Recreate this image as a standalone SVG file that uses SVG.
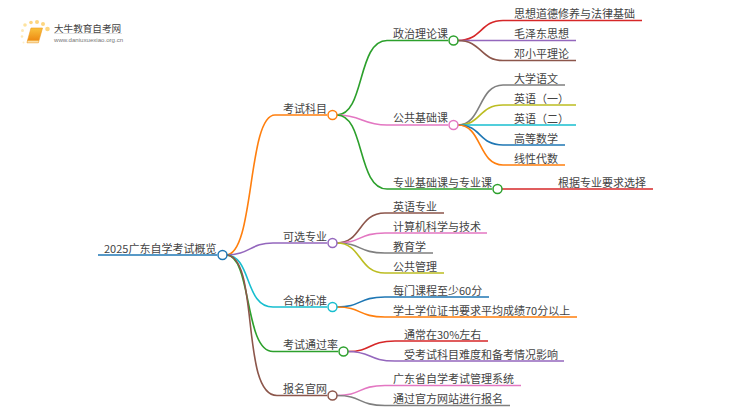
<svg xmlns="http://www.w3.org/2000/svg" width="750" height="410" viewBox="0 0 750 410">
<style>
text{font-family:"Noto Sans CJK SC","Liberation Sans",sans-serif;font-size:11px;fill:#444;transform:translateY(.7px)}
.c path{fill:none;stroke-width:1.6}
circle.n{fill:#fff;stroke-width:1.5}
.blue{stroke:#1f77b4}.org{stroke:#ff7f0e}.grn{stroke:#2ca02c}.red{stroke:#d62728}.pur{stroke:#9467bd}.brn{stroke:#8c564b}.pnk{stroke:#e377c2}.gry{stroke:#7f7f7f}.olv{stroke:#bcbd22}.cyn{stroke:#17becf}
</style>
<defs><linearGradient id="bk" x1="0" y1="0" x2="0" y2="1"><stop offset="0" stop-color="#f9c23c"/><stop offset="1" stop-color="#ee8a12"/></linearGradient></defs>
<rect width="750" height="410" fill="#fff"/>
<g id="logo">
<circle cx="25" cy="25" r="1.800" fill="#fde3a0"/><circle cx="31" cy="22.500" r="1.800" fill="#fdd680"/><circle cx="37" cy="22" r="2" fill="#fdd680"/><circle cx="43" cy="24" r="2" fill="#fdd680"/><circle cx="47.500" cy="29" r="2.300" fill="#fdd680"/><circle cx="22.500" cy="30.500" r="1.500" fill="#fde9b8"/><circle cx="22" cy="36.500" r="1.300" fill="#fde9b8"/><circle cx="23.500" cy="42.500" r="1" fill="#fdeecb"/>
<path d="M31 28h11.500l-3.500 12.500h-11.500z" fill="url(#bk)" stroke="#ee9a20" stroke-width=".6"/><path d="M27.500 40.500h11.500l-.6 2.300h-11.400z" fill="#fbe0a8" stroke="#ee9a20" stroke-width=".6"/>
<text x="54" y="31" style="font-size:9.600px">大牛教育自考网</text>
<path d="M54 33.500h68" stroke="#ccc" stroke-width=".6"/>
<text x="54" y="41" style="font-size:6.100px;fill:#777;font-family:'Liberation Sans',sans-serif">www.daniuxuexiao.org.cn</text>
</g>
<g id="connectors" class="c">
<path class="blue" d="M98 255H217"/>
<path class="org" d="M226 255C255 255 247 115 275 115H327"/>
<path class="pur" d="M226 255C250 255 250 243 273 243H327"/>
<path class="cyn" d="M226 255C252 255 244 307 273 307H327"/>
<path class="grn" d="M226 255C252 255 244 351.500 273 351.500H338"/>
<path class="brn" d="M226 255C260 255 240 395.500 277 395.500H327"/>
<path class="grn" d="M337 115C365 115 357 40.500 387 40.500H448"/>
<path class="pnk" d="M337 115C362 115 362 125 387 125H448"/>
<path class="grn" d="M337 115C365 115 357 189 387 189H492"/>
<path class="red" d="M458 40.500C482 40.500 480 20.500 503 20.500H642"/>
<path class="pur" d="M458 40.500H576"/>
<path class="brn" d="M458 40.500C482 40.500 480 60.500 503 60.500H576"/>
<path class="gry" d="M458 125C482 125 478 85 503 85H565"/>
<path class="olv" d="M458 125C482 125 478 105 503 105H576"/>
<path class="cyn" d="M458 125H576"/>
<path class="blue" d="M458 125C482 125 478 145 503 145H565"/>
<path class="org" d="M458 125C482 125 478 165 503 165H565"/>
<path class="red" d="M502 189H653"/>
<path class="brn" d="M337 243C362 243 358 213 385 213H444"/>
<path class="pnk" d="M337 243C362 243 358 233 385 233H487"/>
<path class="gry" d="M337 243C362 243 358 253 385 253H433"/>
<path class="olv" d="M337 243C362 243 358 273 385 273H444"/>
<path class="blue" d="M337 307C362 307 358 297 385 297H489"/>
<path class="org" d="M337 307C362 307 358 317 385 317H577"/>
<path class="red" d="M348 351.500C372 351.500 368 341 395 341H488"/>
<path class="pur" d="M348 351.500C372 351.500 368 361 395 361H564"/>
<path class="pnk" d="M337 395.500C362 395.500 358 385.500 385 385.500H521"/>
<path class="gry" d="M337 395.500C362 395.500 358 405.500 385 405.500H510"/>
</g>
<g id="root"><text x="104" y="252">2025广东自学考试概览</text><circle class="n blue" cx="222.500" cy="255" r="4.500"/></g>
<g id="n1"><text x="283" y="112">考试科目</text><circle class="n org" cx="332.500" cy="115" r="4.500"/></g>
<g id="n11"><text x="393" y="37">政治理论课</text><circle class="n grn" cx="453.500" cy="40.500" r="4.500"/></g>
<g id="n111"><text x="514" y="17">思想道德修养与法律基础</text></g>
<g id="n112"><text x="514" y="37">毛泽东思想</text></g>
<g id="n113"><text x="514" y="57">邓小平理论</text></g>
<g id="n12"><text x="393" y="121">公共基础课</text><circle class="n pnk" cx="453.500" cy="125" r="4.500"/></g>
<g id="n121"><text x="514" y="82">大学语文</text></g>
<g id="n122"><text x="514" y="102">英语（一）</text></g>
<g id="n123"><text x="514" y="122">英语（二）</text></g>
<g id="n124"><text x="514" y="142">高等数学</text></g>
<g id="n125"><text x="514" y="162">线性代数</text></g>
<g id="n13"><text x="393" y="186">专业基础课与专业课</text><circle class="n grn" cx="497.500" cy="189" r="4.500"/></g>
<g id="n131"><text x="558" y="186">根据专业要求选择</text></g>
<g id="n2"><text x="283" y="240">可选专业</text><circle class="n pur" cx="332.500" cy="243" r="4.500"/></g>
<g id="n21"><text x="393" y="210">英语专业</text></g>
<g id="n22"><text x="393" y="230">计算机科学与技术</text></g>
<g id="n23"><text x="393" y="250">教育学</text></g>
<g id="n24"><text x="393" y="270">公共管理</text></g>
<g id="n3"><text x="283" y="304">合格标准</text><circle class="n cyn" cx="332.500" cy="307" r="4.500"/></g>
<g id="n31"><text x="393" y="294">每门课程至少60分</text></g>
<g id="n32"><text x="393" y="314">学士学位证书要求平均成绩70分以上</text></g>
<g id="n4"><text x="283" y="348">考试通过率</text><circle class="n grn" cx="343.500" cy="351.500" r="4.500"/></g>
<g id="n41"><text x="404" y="338">通常在30%左右</text></g>
<g id="n42"><text x="404" y="358">受考试科目难度和备考情况影响</text></g>
<g id="n5"><text x="283" y="392">报名官网</text><circle class="n brn" cx="332.500" cy="395.500" r="4.500"/></g>
<g id="n51"><text x="393" y="382">广东省自学考试管理系统</text></g>
<g id="n52"><text x="393" y="402">通过官方网站进行报名</text></g>
</svg>
